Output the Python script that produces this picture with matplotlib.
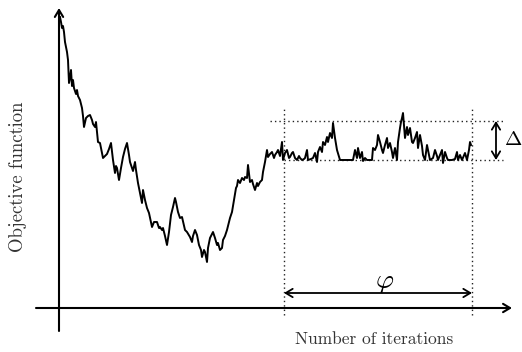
import numpy as np
import matplotlib.pyplot as plt

iterations = [1, 2, 3, 4, 5, 6, 8, 9, 10, 11, 12, 13, 14, 15, 17, 18, 19, 21, 23, 24,
              25, 27, 29, 31, 33, 34, 36, 37, 38, 39, 41, 42, 44, 46, 48, 50, 52, 54, 56, 57,
              58, 60, 62, 64, 66, 68, 70, 71, 73, 74, 76, 77, 79, 81, 83, 84, 86, 88, 90, 93,
              95, 98, 100, 101, 103, 104, 106, 108, 110, 112, 114, 116, 117, 119, 121, 123, 125, 126, 128, 131,
              133, 134, 136, 138, 140, 142, 143, 145, 146, 148, 149, 151, 154, 156, 158, 159, 161, 163, 164, 166,
              168, 171, 173, 175, 177, 178, 179, 181, 183, 185, 186, 188, 189, 191, 193, 194, 196, 198, 199, 201,
              203, 204, 206, 208, 209, 211, 213, 215, 216, 218, 219, 221, 223, 224, 226, 228, 230, 231, 233, 234,
              236, 238, 240, 241, 243, 245, 246, 248, 249, 252, 254, 256, 258, 259, 261, 263, 264, 266, 268, 269,
              271, 273, 274, 276, 278, 281, 294, 296, 298, 299, 301, 303, 304, 306, 308, 313, 314, 316, 318, 319,
              321, 323, 324, 326, 328, 329, 331, 333, 334, 336, 338, 339, 341, 342, 343, 344, 345, 346, 348, 349,
              351, 353, 354, 356, 358, 359, 361, 363, 364, 366, 368, 369, 371, 374, 376, 378, 379, 381, 383, 384,
              386, 388, 389, 393, 396, 398, 399, 401, 403, 406, 408, 410, 411, 412]
objective = [291, 286, 280, 282, 276, 266, 256, 248, 225, 230, 238, 222, 228, 220, 214, 218, 212, 208, 200, 192,
             181, 190, 192, 193, 188, 184, 181, 186, 176, 166, 165, 160, 150, 152, 154, 159, 165, 148, 135, 142,
             140, 128, 140, 151, 159, 165, 153, 146, 140, 137, 146, 138, 125, 115, 105, 118, 108, 100, 95, 81,
             86, 86, 80, 81, 78, 80, 72, 63, 76, 93, 101, 110, 106, 96, 90, 91, 82, 78, 76, 71,
             66, 72, 78, 73, 63, 58, 51, 58, 56, 46, 60, 70, 76, 70, 63, 65, 58, 60, 68, 72,
             78, 90, 96, 108, 120, 122, 128, 125, 130, 128, 131, 130, 143, 126, 128, 124, 118, 125, 122, 126,
             128, 136, 146, 158, 151, 154, 156, 150, 153, 156, 158, 152, 166, 148, 155, 158, 150, 151, 155, 156,
             150, 148, 152, 150, 148, 149, 150, 158, 148, 149, 150, 155, 146, 156, 161, 156, 166, 163, 171, 166,
             175, 170, 185, 170, 158, 148, 148, 158, 150, 160, 150, 156, 147, 150, 148, 148, 160, 158, 163, 173,
             166, 158, 155, 163, 170, 160, 165, 156, 150, 160, 148, 166, 180, 186, 190, 195, 183, 170, 181, 173,
             180, 166, 165, 170, 176, 160, 173, 162, 153, 148, 163, 158, 148, 150, 158, 152, 148, 153, 158, 145,
             156, 150, 148, 148, 149, 156, 148, 153, 148, 155, 148, 158, 166, 163]

# stagnation window and the band it stays in
window_start, window_end = 225, 413
band_low, band_high = 148, 187

plt.rcParams['mathtext.fontset'] = 'cm'

fig = plt.figure(figsize=(5.22, 3.52), dpi=100)
ax = fig.add_axes([0, 0, 1, 1])
ax.set_xlim(-59, 463)
ax.set_ylim(-44, 308)
ax.axis('off')

ax.plot(iterations, objective, color='black', lw=1.4, zorder=3)

# axes with arrow heads
arr = dict(arrowstyle='->,head_length=0.5,head_width=0.3', lw=1.5, color='black',
           shrinkA=0, shrinkB=0)
ax.annotate('', xy=(0, 300), xytext=(0, -23), arrowprops=arr)
ax.annotate('', xy=(453, 0), xytext=(-23, 0), arrowprops=arr)

# dotted guides
dot = dict(color='#222222', lw=1.0, ls=(0, (1, 2.2)))
ax.plot([window_start, window_start], [-7, 200], **dot)
ax.plot([window_end, window_end], [-7, 200], **dot)
ax.plot([211, 444], [band_high, band_high], **dot)
ax.plot([window_start, 444], [band_low, band_low], **dot)

# phi and delta
darr = dict(arrowstyle='<->,head_length=0.5,head_width=0.3', lw=1.3, color='black',
            shrinkA=0, shrinkB=0)
ax.annotate('', xy=(window_end, 15), xytext=(window_start, 15), arrowprops=darr)
ax.text((window_start + window_end) / 2 + 7, 27, r'$\varphi$', fontsize=20,
        ha='center', va='center')
ax.annotate('', xy=(437, band_high), xytext=(437, band_low), arrowprops=darr)
ax.text(445, 169, r'$\Delta$', fontsize=15, ha='left', va='center')

ax.text(315, -31, 'Number of iterations', family='cmr10', fontsize=12.5,
        color='#333333', ha='center', va='center')
ax.text(-41, 131, 'Objective function', family='cmr10', fontsize=13.5,
        color='#333333', ha='center', va='center', rotation=90)

fig.savefig('out.png', dpi=100)
